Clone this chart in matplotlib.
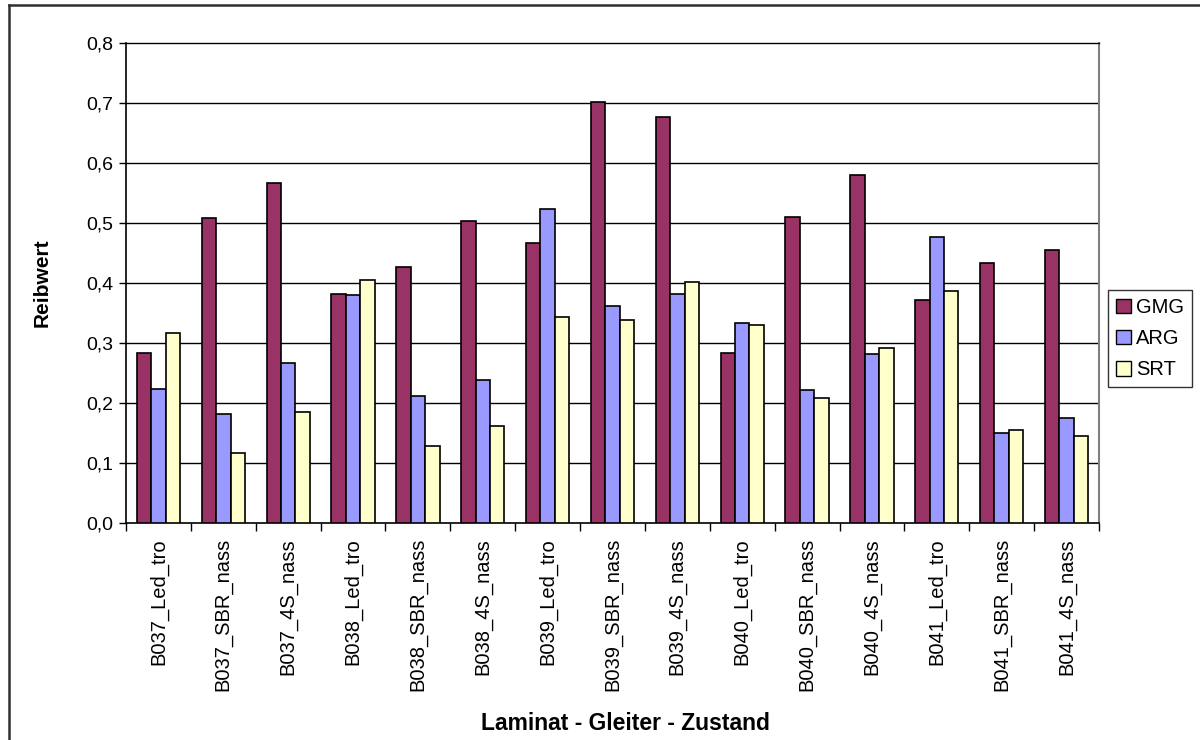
import matplotlib
matplotlib.use("Agg")
import matplotlib.pyplot as plt
import numpy as np
from matplotlib.lines import Line2D
from matplotlib.ticker import FixedLocator, FuncFormatter

plt.rcParams['font.family'] = ['Liberation Sans', 'DejaVu Sans']

categories = [
    "B037_Led_tro", "B037_SBR_nass", "B037_4S_nass",
    "B038_Led_tro", "B038_SBR_nass", "B038_4S_nass",
    "B039_Led_tro", "B039_SBR_nass", "B039_4S_nass",
    "B040_Led_tro", "B040_SBR_nass", "B040_4S_nass",
    "B041_Led_tro", "B041_SBR_nass", "B041_4S_nass",
]
gmg = [0.283, 0.508, 0.566, 0.381, 0.427, 0.503, 0.466, 0.702, 0.677,
       0.283, 0.509, 0.580, 0.372, 0.433, 0.455]
arg = [0.223, 0.182, 0.267, 0.379, 0.212, 0.238, 0.523, 0.361, 0.382,
       0.333, 0.221, 0.282, 0.476, 0.149, 0.175]
srt = [0.316, 0.116, 0.184, 0.404, 0.128, 0.162, 0.343, 0.338, 0.402,
       0.330, 0.208, 0.292, 0.387, 0.154, 0.144]
series_names = ["GMG", "ARG", "SRT"]
series_colors = ["#993366", "#9999FF", "#FFFFCC"]
y_ticks = [0.0, 0.1, 0.2, 0.3, 0.4, 0.5, 0.6, 0.7, 0.8]

W, H = 1200, 740
fig = plt.figure(figsize=(W / 100, H / 100), dpi=100)
fig.patch.set_facecolor("white")

# plot area in pixel coordinates
left, right, top, bottom = 126, 1099, 42.7, 522.7
ax = fig.add_axes([left / W, 1 - bottom / H, (right - left) / W, (bottom - top) / H])

x = np.arange(len(categories))
bw = 0.222
for i, (vals, name, col) in enumerate(zip([gmg, arg, srt], series_names, series_colors)):
    ax.bar(x + (i - 1) * bw, vals, width=bw, color=col, edgecolor="black",
           linewidth=1.2, label=name, zorder=3)

ax.set_xlim(-0.5, len(categories) - 0.5)
ax.set_ylim(0, 0.8)

# horizontal gridlines
for t in y_ticks[1:-1]:
    ax.axhline(t, color="black", linewidth=1.0, zorder=1)

ax.set_yticks(y_ticks)
ax.yaxis.set_major_formatter(FuncFormatter(lambda v, p: f"{v:.1f}".replace(".", ",")))
ax.tick_params(axis="y", direction="out", length=5, width=1, labelsize=14, pad=4)

# category labels at centres, tick marks at category boundaries
ax.set_xticks(x)
ax.set_xticklabels(categories, rotation=90, fontsize=14.5, va="top")
ax.tick_params(axis="x", which="major", length=0, pad=11)
ax.xaxis.set_minor_locator(FixedLocator(np.arange(-0.5, len(categories), 1.0)))
ax.tick_params(axis="x", which="minor", direction="out", length=6, width=1)

for side in ["left", "bottom"]:
    ax.spines[side].set_color("black")
    ax.spines[side].set_linewidth(1.2)
ax.spines["top"].set_color("black")
ax.spines["top"].set_linewidth(1.0)
ax.spines["right"].set_color("#808080")
ax.spines["right"].set_linewidth(1.5)

ax.set_ylabel("Reibwert", fontsize=15, fontweight="bold", labelpad=25)
fig.text(625 / W, 1 - 723 / H, "Laminat - Gleiter - Zustand", fontsize=16.5,
         fontweight="bold", ha="center", va="center")

leg = ax.legend(loc="upper left", bbox_to_anchor=(1108 / W, 1 - 290 / H),
                bbox_transform=fig.transFigure, fontsize=14.5, frameon=True,
                fancybox=False, edgecolor="black", handlelength=0.75,
                handleheight=0.75, handletextpad=0.25, borderpad=0.4,
                labelspacing=0.6, borderaxespad=0)
leg.get_frame().set_linewidth(1.0)
for h in leg.legend_handles:
    h.set_linewidth(1.0)

# outer chart frame (left and top edges)
fig.add_artist(Line2D([8.5 / W, 8.5 / W], [0, 1 - 5 / H], transform=fig.transFigure,
                      color="#303030", linewidth=1.8))
fig.add_artist(Line2D([8.5 / W, 1], [1 - 5 / H, 1 - 5 / H], transform=fig.transFigure,
                      color="#303030", linewidth=1.8))

fig.savefig("out.png", dpi=100, facecolor="white")
